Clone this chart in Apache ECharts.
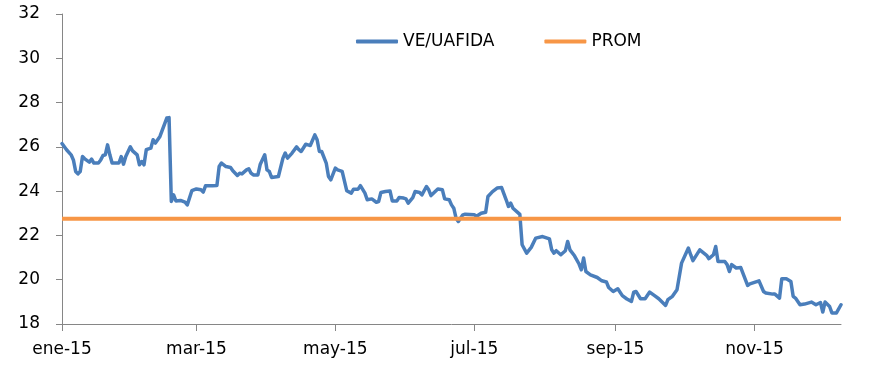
<!DOCTYPE html>
<html>
<head>
<meta charset="utf-8">
<script src="https://cdn.jsdelivr.net/npm/echarts@6/dist/echarts.min.js"></script>
<style>html,body{margin:0;padding:0;background:#fff}#c{width:878px;height:384px}</style>
</head>
<body>
<div id="c"></div>
<script>
// Series names
const seriesNames = ['VE/UAFIDA', 'PROM'];
// Observation dates (2015)
const dates = [
'2015-01-01','2015-01-03','2015-01-05','2015-01-06','2015-01-07','2015-01-08','2015-01-09','2015-01-10','2015-01-11','2015-01-13',
'2015-01-14','2015-01-15','2015-01-17','2015-01-18','2015-01-19','2015-01-20','2015-01-21','2015-01-22','2015-01-23','2015-01-26',
'2015-01-27','2015-01-28','2015-01-29','2015-01-31','2015-02-01','2015-02-03','2015-02-04','2015-02-05','2015-02-06','2015-02-07',
'2015-02-08','2015-02-09','2015-02-10','2015-02-11','2015-02-13','2015-02-16','2015-02-17','2015-02-18','2015-02-19','2015-02-20',
'2015-02-22','2015-02-24','2015-02-25','2015-02-27','2015-03-01','2015-03-03','2015-03-04','2015-03-05','2015-03-08','2015-03-10',
'2015-03-11','2015-03-12','2015-03-14','2015-03-16','2015-03-17','2015-03-19','2015-03-20','2015-03-21','2015-03-23','2015-03-24',
'2015-03-25','2015-03-26','2015-03-28','2015-03-29','2015-03-31','2015-04-01','2015-04-02','2015-04-03','2015-04-06','2015-04-08',
'2015-04-09','2015-04-10','2015-04-12','2015-04-14','2015-04-15','2015-04-16','2015-04-18','2015-04-19','2015-04-20','2015-04-22',
'2015-04-23','2015-04-24','2015-04-25','2015-04-27','2015-04-28','2015-04-29','2015-05-01','2015-05-02','2015-05-04','2015-05-06',
'2015-05-08','2015-05-09','2015-05-11','2015-05-12','2015-05-14','2015-05-15','2015-05-17','2015-05-19','2015-05-20','2015-05-21',
'2015-05-23','2015-05-25','2015-05-26','2015-05-28','2015-05-29','2015-05-31','2015-06-01','2015-06-02','2015-06-04','2015-06-05',
'2015-06-07','2015-06-08','2015-06-10','2015-06-11','2015-06-12','2015-06-15','2015-06-17','2015-06-18','2015-06-20','2015-06-21',
'2015-06-22','2015-06-23','2015-06-24','2015-06-26','2015-06-27','2015-07-01','2015-07-02','2015-07-04','2015-07-06','2015-07-07',
'2015-07-09','2015-07-11','2015-07-13','2015-07-15','2015-07-16','2015-07-17','2015-07-18','2015-07-21','2015-07-22','2015-07-24',
'2015-07-26','2015-07-28','2015-07-31','2015-08-03','2015-08-04','2015-08-05','2015-08-06','2015-08-08','2015-08-10','2015-08-11',
'2015-08-12','2015-08-14','2015-08-16','2015-08-17','2015-08-18','2015-08-19','2015-08-21','2015-08-24','2015-08-26','2015-08-28',
'2015-08-29','2015-08-31','2015-09-02','2015-09-04','2015-09-06','2015-09-08','2015-09-09','2015-09-10','2015-09-12','2015-09-14',
'2015-09-16','2015-09-18','2015-09-20','2015-09-23','2015-09-24','2015-09-26','2015-09-28','2015-09-30','2015-10-03','2015-10-04',
'2015-10-05','2015-10-08','2015-10-11','2015-10-12','2015-10-14','2015-10-15','2015-10-16','2015-10-19','2015-10-20','2015-10-21',
'2015-10-22','2015-10-24','2015-10-26','2015-10-29','2015-10-30','2015-11-03','2015-11-05','2015-11-06','2015-11-09','2015-11-10',
'2015-11-12','2015-11-13','2015-11-15','2015-11-17','2015-11-18','2015-11-19','2015-11-21','2015-11-23','2015-11-26','2015-11-28',
'2015-11-30','2015-12-01','2015-12-02','2015-12-04','2015-12-05','2015-12-07','2015-12-09'
];
// VE/UAFIDA values
const veUafida = [
26.15,25.87,25.64,25.41,24.89,24.78,24.89,25.56,25.46,25.31,
25.45,25.27,25.27,25.41,25.61,25.64,26.09,25.64,25.27,25.27,
25.56,25.22,25.56,26.00,25.82,25.64,25.19,25.34,25.19,25.87,
25.91,25.94,26.32,26.17,26.47,27.30,27.32,23.53,23.83,23.56,
23.58,23.50,23.38,24.02,24.10,24.06,23.96,24.24,24.24,24.25,
25.11,25.27,25.11,25.07,24.92,24.71,24.81,24.78,24.96,25.01,
24.81,24.73,24.73,25.20,25.64,24.96,24.89,24.62,24.66,25.49,
25.72,25.49,25.72,26.00,25.87,25.79,26.12,26.09,26.06,26.54,
26.32,25.79,25.79,25.27,24.66,24.51,25.04,24.96,24.89,24.02,
23.91,24.09,24.09,24.25,23.91,23.61,23.65,23.50,23.53,23.94,
23.98,24.01,23.56,23.56,23.71,23.69,23.65,23.46,23.71,23.98,
23.94,23.83,24.21,24.06,23.80,24.10,24.06,23.65,23.61,23.38,
23.23,22.78,22.63,22.93,22.96,22.93,22.87,23.00,23.05,23.76,
23.98,24.14,24.16,23.61,23.31,23.46,23.23,22.95,21.58,21.20,
21.46,21.88,21.95,21.84,21.35,21.20,21.31,21.13,21.31,21.73,
21.35,21.08,20.71,20.45,20.98,20.37,20.22,20.10,19.95,19.90,
19.65,19.47,19.59,19.28,19.13,19.02,19.44,19.47,19.14,19.14,
19.44,19.29,19.14,18.84,19.10,19.25,19.55,20.75,21.43,21.13,
20.86,21.35,21.10,20.95,21.13,21.50,20.82,20.82,20.68,20.37,
20.68,20.53,20.55,19.74,19.81,19.95,19.47,19.40,19.35,19.35,
19.17,20.04,20.04,19.92,19.25,19.17,18.87,18.90,18.99,18.87,
18.97,18.54,18.99,18.79,18.50,18.50,18.87
];
// PROM (average) value
const promValue = 22.75;
// X tick labels and their dates
const tickDates = ['2015-01-01','2015-03-01','2015-05-01','2015-07-01','2015-09-01','2015-11-01'];
const tickLabels = ['ene-15','mar-15','may-15','jul-15','sep-15','nov-15'];

const base = Date.UTC(2015, 0, 1);
const toDay = s => { const p = s.split('-').map(Number); return Math.round((Date.UTC(p[0], p[1]-1, p[2]) - base) / 86400000); };
const xs = dates.map(toDay);
const tickDays = tickDates.map(toDay);
const labelMap = {};
tickDays.forEach((d, i) => labelMap[d] = tickLabels[i]);
const xMin = 0, xMax = xs[xs.length - 1];

const font = 'DejaVu Sans, Verdana, sans-serif';
const fs = 17;
const axisColor = '#868686';
const chart = echarts.init(document.getElementById('c'), null, {renderer: 'canvas'});
chart.setOption({
  animation: false,
  backgroundColor: '#ffffff',
  grid: {left: 62, right: 37, top: 14, bottom: 60},
  legend: {
    left: 351, top: 28,
    itemWidth: 42, itemHeight: 4, itemGap: 50,
    icon: 'roundRect',
    textStyle: {fontFamily: font, fontSize: fs, color: '#000'},
    data: seriesNames
  },
  xAxis: {
    type: 'value', min: xMin, max: xMax,
    axisLine: {show: true, lineStyle: {color: axisColor, width: 1}},
    axisTick: {show: true, customValues: tickDays, length: 7, lineStyle: {color: axisColor}},
    axisLabel: {customValues: tickDays, formatter: v => labelMap[v] || '', margin: 17,
      fontFamily: font, fontSize: fs, color: '#000'},
    splitLine: {show: false}
  },
  yAxis: {
    type: 'value', min: 18, max: 32, interval: 2,
    axisLine: {show: true, lineStyle: {color: axisColor, width: 1}},
    axisTick: {show: true, length: 6, lineStyle: {color: axisColor}},
    axisLabel: {margin: 22, fontFamily: font, fontSize: fs, color: '#000'},
    splitLine: {show: false}
  },
  series: [
    {
      name: seriesNames[0], type: 'line', symbol: 'none',
      data: xs.map((x, i) => [x, veUafida[i]]),
      lineStyle: {color: '#4a7ebb', width: 3.5, join: 'round', cap: 'round'},
      itemStyle: {color: '#4a7ebb'}
    },
    {
      name: seriesNames[1], type: 'line', symbol: 'none',
      data: [[xMin, promValue], [xMax, promValue]],
      lineStyle: {color: '#f79646', width: 4},
      itemStyle: {color: '#f79646'}
    }
  ]
});
</script>
</body>
</html>
